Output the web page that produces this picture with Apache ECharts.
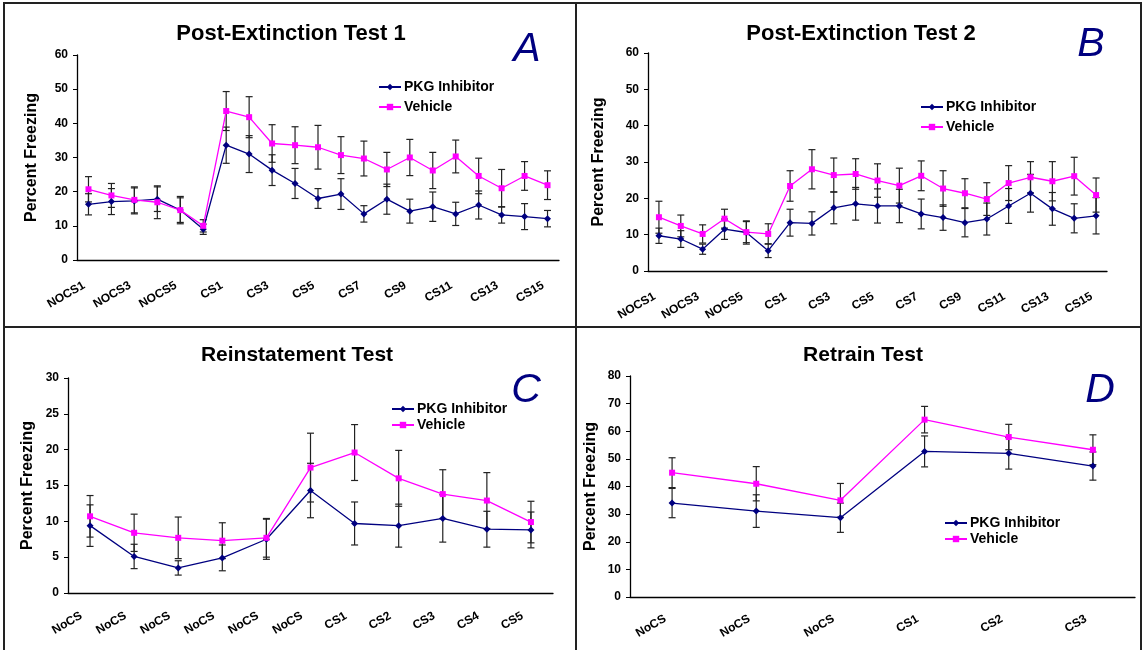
<!DOCTYPE html>
<html><head><meta charset="utf-8">
<script src="https://cdn.jsdelivr.net/npm/echarts@6/dist/echarts.min.js"></script>
<style>html,body{margin:0;padding:0;background:#fff}#c{width:1144px;height:650px}</style>
</head><body><div id="c"></div>
<script>
// ---- Data ----
const catA = ['NOCS1','NOCS2','NOCS3','NOCS4','NOCS5','NOCS6','CS1','CS2','CS3','CS4','CS5','CS6','CS7','CS8','CS9','CS10','CS11','CS12','CS13','CS14','CS15'];
const pkgA = [16.3,17.1,17.3,17.8,14.6,9.0,33.6,31.0,26.3,22.4,18.0,19.3,13.5,17.8,14.3,15.6,13.5,16.1,13.2,12.7,12.1];
const pkgAErr = [3.1,3.8,3.8,3.6,3.6,1.5,5.3,5.4,4.5,4.4,2.9,4.5,2.4,4.4,3.5,4.3,3.4,4.1,2.4,3.8,2.4];
const vehA = [20.7,18.9,17.6,16.9,14.6,10.0,43.6,41.8,34.1,33.6,33.0,30.7,29.7,26.5,30.0,26.2,30.3,24.6,21.0,24.6,21.9];
const vehAErr = [3.7,3.5,3.8,4.8,4.0,1.8,5.7,6.0,5.5,5.4,6.4,5.4,5.1,5.0,5.3,5.3,4.8,5.2,5.5,4.2,4.2];

const catB = catA;
const pkgB = [9.7,8.8,6.0,11.5,10.6,5.6,13.3,13.1,17.4,18.5,17.9,17.9,15.7,14.7,13.3,14.3,17.9,21.4,17.1,14.5,15.2];
const pkgBErr = [2.1,2.3,1.4,2.8,3.2,1.9,3.7,3.2,4.4,4.5,4.7,4.6,4.1,3.5,3.9,4.4,4.8,5.2,4.5,4.0,5.0];
const vehB = [14.8,12.4,10.2,14.4,10.7,10.2,23.4,28.0,26.4,26.7,24.9,23.5,26.2,22.7,21.4,19.8,24.2,25.8,24.7,26.1,20.9];
const vehBErr = [4.4,3.0,2.5,2.6,2.9,2.8,4.2,5.4,4.7,4.2,4.6,4.8,4.1,4.9,4.0,4.5,4.8,4.3,5.4,5.2,4.7];

const catC = ['NoCS','NoCS','NoCS','NoCS','NoCS','NoCS','CS1','CS2','CS3','CS4','CS5'];
const pkgC = [9.4,5.1,3.5,4.9,7.5,14.3,9.7,9.4,10.4,8.9,8.8];
const pkgCErr = [2.9,1.7,1.0,1.8,2.8,3.8,3.0,3.0,3.3,2.5,2.5];
const vehC = [10.7,8.4,7.7,7.3,7.7,17.5,19.6,16.0,13.8,12.9,9.9];
const vehCErr = [2.9,2.6,2.9,2.5,2.7,4.8,3.9,3.9,3.4,3.9,2.9];

const catD = ['NoCS','NoCS','NoCS','CS1','CS2','CS3'];
const pkgD = [34.0,31.1,28.7,52.7,52.0,47.4];
const pkgDErr = [5.3,5.9,5.3,5.6,5.7,5.1];
const vehD = [45.0,41.0,35.0,64.2,57.9,53.3];
const vehDErr = [5.4,6.2,6.1,4.8,4.6,5.4];

const yMaxA = 60, yMaxB = 60, yMaxC = 30, yMaxD = 80;
const yStepA = 10, yStepB = 10, yStepC = 5, yStepD = 10;

// ---- Chart ----
const FONT = 'Arial, "Liberation Sans", sans-serif';
const NAVY = '#000080', MAG = '#FF00FF';
const chart = echarts.init(document.getElementById('c'), null, {renderer:'canvas'});

const grids = [
  {left:77, top:55, width:482, height:205},
  {left:648, top:53, width:459, height:218},
  {left:68, top:378, width:485, height:215},
  {left:630, top:376, width:505, height:221}
];
const panels = [
  {cat:catA, pkg:pkgA, pe:pkgAErr, veh:vehA, ve:vehAErr, max:yMaxA, step:yStepA, lblInt:1, gap:37, lm:22, pr:5},
  {cat:catB, pkg:pkgB, pe:pkgBErr, veh:vehB, ve:vehBErr, max:yMaxB, step:yStepB, lblInt:1, gap:41, lm:22, pr:5},
  {cat:catC, pkg:pkgC, pe:pkgCErr, veh:vehC, ve:vehCErr, max:yMaxC, step:yStepC, lblInt:0, gap:32, lm:17, pr:10},
  {cat:catD, pkg:pkgD, pe:pkgDErr, veh:vehD, ve:vehDErr, max:yMaxD, step:yStepD, lblInt:0, gap:31, lm:17, pr:8}
];

function errRender(params, api){
  const x = api.value(0), lo = api.value(1), hi = api.value(2);
  const p1 = api.coord([x, lo]), p2 = api.coord([x, hi]);
  const w = 3.5, st = {stroke:'#222', lineWidth:1.2};
  return {type:'group', children:[
    {type:'line', shape:{x1:p1[0],y1:p1[1],x2:p2[0],y2:p2[1]}, style:st},
    {type:'line', shape:{x1:p1[0]-w,y1:p1[1],x2:p1[0]+w,y2:p1[1]}, style:st},
    {type:'line', shape:{x1:p2[0]-w,y1:p2[1],x2:p2[0]+w,y2:p2[1]}, style:st}
  ]};
}

const xAxes = [], yAxes = [], series = [];
panels.forEach((p, i) => {
  xAxes.push({type:'category', gridIndex:i, data:p.cat, boundaryGap:true,
    axisLine:{lineStyle:{color:'#000', width:1.3}},
    axisTick:{interval:0, length:5, lineStyle:{color:'#000'}},
    axisLabel:{interval:p.lblInt, rotate:30, margin:p.lm, padding:[0,p.pr,0,0], color:'#000', fontFamily:FONT, fontWeight:'bold', fontSize:12},
    splitLine:{show:false}});
  yAxes.push({type:'value', gridIndex:i, min:0, max:p.max, interval:p.step,
    name:'Percent Freezing', nameLocation:'middle', nameGap:p.gap,
    nameTextStyle:{color:'#000', fontFamily:FONT, fontWeight:'bold', fontSize:16},
    axisLine:{show:true, lineStyle:{color:'#000', width:1.3}},
    axisTick:{show:true, length:4, lineStyle:{color:'#000'}},
    axisLabel:{color:'#000', fontFamily:FONT, fontWeight:'bold', fontSize:12, margin:9},
    splitLine:{show:false}});
  series.push({type:'custom', xAxisIndex:i, yAxisIndex:i, renderItem:errRender, z:3, silent:true,
    encode:{x:0, y:[1,2]},
    data:p.veh.map((v,k)=>[k, v - p.ve[k], v + p.ve[k]])});
  series.push({type:'custom', xAxisIndex:i, yAxisIndex:i, renderItem:errRender, z:3, silent:true,
    encode:{x:0, y:[1,2]},
    data:p.pkg.map((v,k)=>[k, v - p.pe[k], v + p.pe[k]])});
  series.push({type:'line', name:'PKG Inhibitor', xAxisIndex:i, yAxisIndex:i, data:p.pkg,
    symbol:'diamond', symbolSize:7, z:4,
    lineStyle:{color:NAVY, width:1.3}, itemStyle:{color:NAVY}, animation:false});
  series.push({type:'line', name:'Vehicle', xAxisIndex:i, yAxisIndex:i, data:p.veh,
    symbol:'rect', symbolSize:6, z:4,
    lineStyle:{color:MAG, width:1.3}, itemStyle:{color:MAG}, animation:false});
});

function legendAt(left, top, gap){
  return {orient:'vertical', left:left, top:top, itemGap:gap, itemWidth:22, itemHeight:8,
    data:['PKG Inhibitor','Vehicle'], selectedMode:false,
    textStyle:{color:'#000', fontFamily:FONT, fontWeight:'bold', fontSize:14, padding:[0,0,0,-2]}};
}

const lineStyle = {stroke:'#222', lineWidth:2};
const titleStyle = {fontFamily:FONT, fontWeight:'bold', fontSize:22, color:'#000'};
const titleStyle2 = {fontFamily:FONT, fontWeight:'bold', fontSize:21, color:'#000'};
const letterStyle = {fontFamily:FONT, fontStyle:'italic', fontWeight:'normal', fontSize:41, color:NAVY};
chart.setOption({
  animation:false,
  backgroundColor:'#fff',
  grid:grids,
  xAxis:xAxes,
  yAxis:yAxes,
  series:series,
  legend:[legendAt(373, 75, 6), legendAt(915, 95, 6), legendAt(386, 397, 2), legendAt(939, 511, 2)],
  title:[
    {text:'Post-Extinction Test 1', left:286, top:18, textAlign:'center', textStyle:titleStyle},
    {text:'Post-Extinction Test 2', left:856, top:18, textAlign:'center', textStyle:titleStyle},
    {text:'Reinstatement Test', left:292, top:340, textAlign:'center', textStyle:titleStyle2},
    {text:'Retrain Test', left:858, top:340, textAlign:'center', textStyle:titleStyle2},
    {text:'A', left:522, top:24, textAlign:'center', textStyle:letterStyle},
    {text:'B', left:1086, top:19, textAlign:'center', textStyle:letterStyle},
    {text:'C', left:521, top:365, textAlign:'center', textStyle:letterStyle},
    {text:'D', left:1095, top:365, textAlign:'center', textStyle:letterStyle}
  ],
  graphic:[
    {type:'rect', shape:{x:4, y:3, width:1137, height:680}, style:{fill:'none', stroke:'#222', lineWidth:2}, silent:true},
    {type:'line', shape:{x1:576, y1:3, x2:576, y2:650}, style:lineStyle, silent:true},
    {type:'line', shape:{x1:4, y1:327, x2:1141, y2:327}, style:lineStyle, silent:true}
  ]
});
</script></body></html>
